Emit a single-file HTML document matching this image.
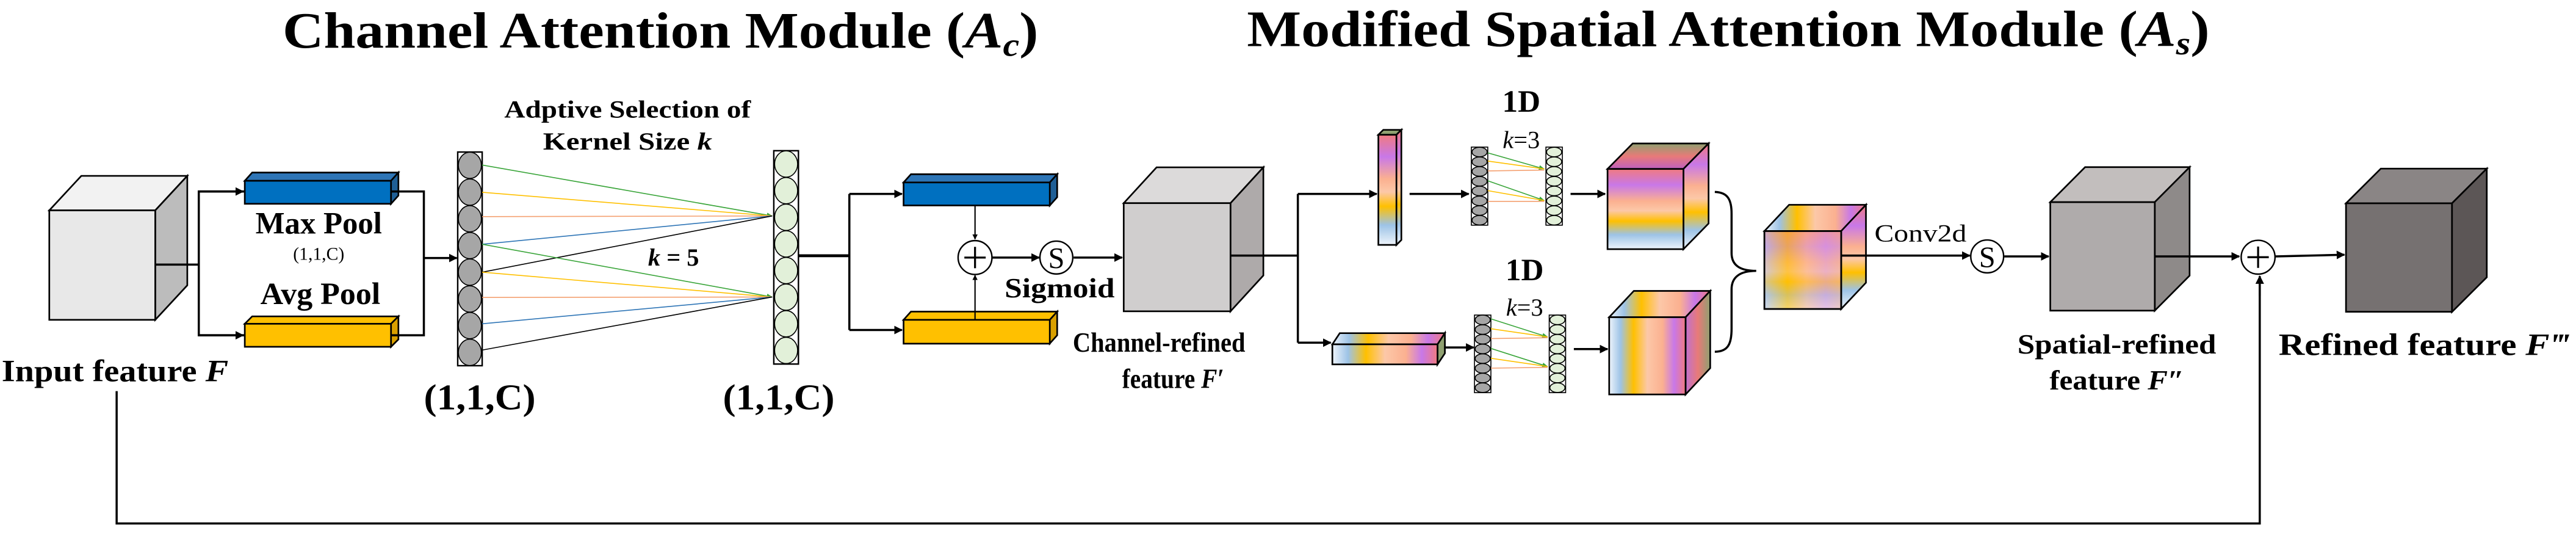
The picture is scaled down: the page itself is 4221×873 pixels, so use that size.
<!DOCTYPE html>
<html><head><meta charset="utf-8"><style>
html,body{margin:0;padding:0;background:#fff;}
svg{display:block;}
text{font-family:"Liberation Serif",serif;fill:#000;}
</style></head><body>
<svg width="4221" height="873" viewBox="0 0 1568 324.3" xmlns="http://www.w3.org/2000/svg">
<defs>
<marker id="ar" viewBox="0 0 10 10" refX="9" refY="5" markerWidth="4" markerHeight="4" orient="auto"><path d="M0,0L10,5L0,10z" fill="#000"/></marker>
<marker id="ag" viewBox="0 0 10 10" refX="9" refY="5" markerWidth="6" markerHeight="6" orient="auto"><path d="M0,1L10,5L0,9z" fill="#3aa53a"/></marker>
<linearGradient id="gv" x1="0" y1="0" x2="0" y2="1">
<stop offset="0" stop-color="#f07a80"/><stop offset="0.2" stop-color="#c878e8"/><stop offset="0.4" stop-color="#fbb090"/><stop offset="0.52" stop-color="#fcc8a8"/><stop offset="0.65" stop-color="#ffc000"/><stop offset="0.82" stop-color="#9dc3e6"/><stop offset="1" stop-color="#eef4fb"/></linearGradient>
<linearGradient id="gh" x1="0" y1="0" x2="1" y2="0">
<stop offset="0" stop-color="#eef4fb"/><stop offset="0.15" stop-color="#9dc3e6"/><stop offset="0.32" stop-color="#ffc000"/><stop offset="0.5" stop-color="#fcc8a8"/><stop offset="0.7" stop-color="#fbb090"/><stop offset="0.85" stop-color="#c878e8"/><stop offset="1" stop-color="#f07a80"/></linearGradient>
<linearGradient id="gside" x1="0" y1="0" x2="1" y2="0">
<stop offset="0" stop-color="#c070d0"/><stop offset="0.5" stop-color="#e87a78"/><stop offset="1" stop-color="#8fa070"/></linearGradient>
<linearGradient id="gtop" x1="0" y1="1" x2="0" y2="0">
<stop offset="0" stop-color="#c060c0"/><stop offset="0.5" stop-color="#e87a78"/><stop offset="1" stop-color="#8fa070"/></linearGradient>
<linearGradient id="gm" x1="0" y1="0" x2="1" y2="0">
<stop offset="0" stop-color="#b8c8ec"/><stop offset="0.3" stop-color="#ffc000"/><stop offset="0.55" stop-color="#fcb890"/><stop offset="0.8" stop-color="#e0a0d8"/><stop offset="1" stop-color="#f0b0a0"/></linearGradient>
</defs>

<text x="172" y="29" font-size="31" font-weight="bold" textLength="460" lengthAdjust="spacingAndGlyphs">Channel Attention Module (<tspan font-style="italic">A</tspan><tspan font-style="italic" font-size="20" dy="5">c</tspan><tspan dy="-5">)</tspan></text>
<text x="759" y="28" font-size="31" font-weight="bold" textLength="586" lengthAdjust="spacingAndGlyphs">Modified Spatial Attention Module (<tspan font-style="italic">A</tspan><tspan font-style="italic" font-size="20" dy="5">s</tspan><tspan dy="-5">)</tspan></text>

<g stroke="#000" stroke-width="1">
<polygon points="30,128 49.5,107 114,107 94.5,128" fill="#f2f2f2"/>
<polygon points="94.5,128 114,107 114,173.6 94.5,194.6" fill="#bcbcbc"/>
<rect x="30" y="128" width="64.5" height="66.6" fill="#e8e8e8"/>
<polygon points="149,110 153.5,105 242.5,105 238,110" fill="#2e75b6"/>
<polygon points="238,110 242.5,105 242.5,119 238,124" fill="#1f5f96"/>
<rect x="149" y="110" width="89" height="14" fill="#0070c0"/>
<polygon points="149,197 153.5,192.5 242.5,192.5 238,197" fill="#ffc000"/>
<polygon points="238,197 242.5,192.5 242.5,206.5 238,211" fill="#d9a000"/>
<rect x="149" y="197" width="89" height="14" fill="#ffc000"/>
<polygon points="550,111 554.5,106 643.5,106 639,111" fill="#2e75b6"/>
<polygon points="639,111 643.5,106 643.5,120 639,125" fill="#1f5f96"/>
<rect x="550" y="111" width="89" height="14" fill="#0070c0"/>
<polygon points="550,194.6 554.5,189.6 643.5,189.6 639,194.6" fill="#ffc000"/>
<polygon points="639,194.6 643.5,189.6 643.5,204 639,209" fill="#d9a000"/>
<rect x="550" y="194.6" width="89" height="14.5" fill="#ffc000"/>
<polygon points="684,123.6 704,101.8 769,101.8 749,123.6" fill="#dcdada"/>
<polygon points="749,123.6 769,101.8 769,167.6 749,189.4" fill="#aeaaaa"/>
<rect x="684" y="123.6" width="65" height="65.8" fill="#d0cece"/>
<polygon points="1248,123 1269.2,101.7 1332.8,101.7 1311.6,123" fill="#c2bebd"/>
<polygon points="1311.6,123 1332.8,101.7 1332.8,167.7 1311.6,189" fill="#8e8a89"/>
<rect x="1248" y="123" width="63.6" height="66" fill="#afabab"/>
<polygon points="1428,123.7 1449.2,102.6 1513.7,102.6 1492.5,123.7" fill="#8a8585"/>
<polygon points="1492.5,123.7 1513.7,102.6 1513.7,168.7 1492.5,189.8" fill="#5c5656"/>
<rect x="1428" y="123.7" width="64.5" height="66" fill="#767171"/>
<polygon points="839,82 842,79 853,79 850,82" fill="#8fa070"/>
<polygon points="850,82 853,79 853,146 850,149" fill="url(#gv)"/>
<rect x="839" y="82" width="11" height="67" fill="url(#gv)"/>
<polygon points="811,209.5 815.5,202.7 879.5,202.7 875,209.5" fill="url(#gh)"/>
<polygon points="875,209.5 879.5,202.7 879.5,215 875,221.7" fill="#8fa070"/>
<rect x="811" y="209.5" width="64" height="12.2" fill="url(#gh)"/>
<polygon points="978.5,102.8 993.8,87.3 1040,87.3 1024.7,102.8" fill="url(#gtop)"/>
<polygon points="1024.7,102.8 1040,87.3 1040,136 1024.7,151.6" fill="url(#gv)"/>
<rect x="978.5" y="102.8" width="46.2" height="48.8" fill="url(#gv)"/>
<polygon points="979.5,193 994.5,177 1041,177 1026,193" fill="url(#gh)"/>
<polygon points="1026,193 1041,177 1041,224 1026,240" fill="url(#gside)"/>
<rect x="979.5" y="193" width="46.5" height="47" fill="url(#gh)"/>
<polygon points="1074,140.6 1089,124.6 1135.8,124.6 1120.7,140.6" fill="url(#gh)"/>
<polygon points="1120.7,140.6 1135.8,124.6 1135.8,172 1120.7,188" fill="url(#gv)"/>
<rect x="1074" y="140.6" width="46.7" height="47.4" fill="url(#gm)"/>
<rect x="1074" y="140.6" width="46.7" height="47.4" fill="url(#gv)" fill-opacity="0.4"/>
</g>

<g stroke="#000" stroke-width="0.6">
<rect x="278.6" y="92.5" width="14.9" height="130" fill="#fff" stroke-width="0.9"/>
<g fill="#a6a6a6">
<ellipse cx="286" cy="100.6" rx="7" ry="8"/><ellipse cx="286" cy="116.9" rx="7" ry="8"/><ellipse cx="286" cy="133.1" rx="7" ry="8"/><ellipse cx="286" cy="149.4" rx="7" ry="8"/><ellipse cx="286" cy="165.6" rx="7" ry="8"/><ellipse cx="286" cy="181.9" rx="7" ry="8"/><ellipse cx="286" cy="198.1" rx="7" ry="8"/><ellipse cx="286" cy="214.4" rx="7" ry="8"/></g>
<rect x="471" y="91.7" width="15" height="129.8" fill="#fff" stroke-width="0.9"/>
<g fill="#e2f0d9">
<ellipse cx="478.5" cy="99.8" rx="7" ry="8"/><ellipse cx="478.5" cy="116" rx="7" ry="8"/><ellipse cx="478.5" cy="132.2" rx="7" ry="8"/><ellipse cx="478.5" cy="148.4" rx="7" ry="8"/><ellipse cx="478.5" cy="164.6" rx="7" ry="8"/><ellipse cx="478.5" cy="180.8" rx="7" ry="8"/><ellipse cx="478.5" cy="197" rx="7" ry="8"/><ellipse cx="478.5" cy="213.2" rx="7" ry="8"/></g>
<rect x="895.6" y="89.5" width="10" height="47.5" fill="#fff"/>
<g fill="#a6a6a6"><ellipse cx="900.6" cy="92.5" rx="4.6" ry="2.9"/><ellipse cx="900.6" cy="98.4" rx="4.6" ry="2.9"/><ellipse cx="900.6" cy="104.3" rx="4.6" ry="2.9"/><ellipse cx="900.6" cy="110.3" rx="4.6" ry="2.9"/><ellipse cx="900.6" cy="116.2" rx="4.6" ry="2.9"/><ellipse cx="900.6" cy="122.2" rx="4.6" ry="2.9"/><ellipse cx="900.6" cy="128.1" rx="4.6" ry="2.9"/><ellipse cx="900.6" cy="134" rx="4.6" ry="2.9"/></g>
<rect x="941" y="89.5" width="10" height="47.5" fill="#fff"/>
<g fill="#e2f0d9"><ellipse cx="946" cy="92.5" rx="4.6" ry="2.9"/><ellipse cx="946" cy="98.4" rx="4.6" ry="2.9"/><ellipse cx="946" cy="104.3" rx="4.6" ry="2.9"/><ellipse cx="946" cy="110.3" rx="4.6" ry="2.9"/><ellipse cx="946" cy="116.2" rx="4.6" ry="2.9"/><ellipse cx="946" cy="122.2" rx="4.6" ry="2.9"/><ellipse cx="946" cy="128.1" rx="4.6" ry="2.9"/><ellipse cx="946" cy="134" rx="4.6" ry="2.9"/></g>
<rect x="897.5" y="191.7" width="10" height="47.2" fill="#fff"/>
<g fill="#a6a6a6"><ellipse cx="902.5" cy="194.6" rx="4.6" ry="2.9"/><ellipse cx="902.5" cy="200.5" rx="4.6" ry="2.9"/><ellipse cx="902.5" cy="206.4" rx="4.6" ry="2.9"/><ellipse cx="902.5" cy="212.3" rx="4.6" ry="2.9"/><ellipse cx="902.5" cy="218.2" rx="4.6" ry="2.9"/><ellipse cx="902.5" cy="224.1" rx="4.6" ry="2.9"/><ellipse cx="902.5" cy="230" rx="4.6" ry="2.9"/><ellipse cx="902.5" cy="235.9" rx="4.6" ry="2.9"/></g>
<rect x="943" y="191.7" width="10" height="47.2" fill="#fff"/>
<g fill="#e2f0d9"><ellipse cx="948" cy="194.6" rx="4.6" ry="2.9"/><ellipse cx="948" cy="200.5" rx="4.6" ry="2.9"/><ellipse cx="948" cy="206.4" rx="4.6" ry="2.9"/><ellipse cx="948" cy="212.3" rx="4.6" ry="2.9"/><ellipse cx="948" cy="218.2" rx="4.6" ry="2.9"/><ellipse cx="948" cy="224.1" rx="4.6" ry="2.9"/><ellipse cx="948" cy="230" rx="4.6" ry="2.9"/><ellipse cx="948" cy="235.9" rx="4.6" ry="2.9"/></g>
</g>

<g stroke-width="0.6" fill="none">
<line x1="293.5" y1="100.4" x2="470" y2="131.4" stroke="#3aa53a" marker-end="url(#ag)"/>
<line x1="293.5" y1="117" x2="470" y2="131.4" stroke="#ffc000"/>
<line x1="293.5" y1="131.8" x2="470" y2="131.4" stroke="#f4a070"/>
<line x1="293.5" y1="148.6" x2="470" y2="131.4" stroke="#2e75b6"/>
<line x1="293.5" y1="165.6" x2="470" y2="131.4" stroke="#000"/>
<line x1="293.5" y1="148.6" x2="470" y2="180.7" stroke="#3aa53a" marker-end="url(#ag)"/>
<line x1="293.5" y1="165.6" x2="470" y2="180.7" stroke="#ffc000"/>
<line x1="293.5" y1="181" x2="470" y2="180.7" stroke="#f4a070"/>
<line x1="293.5" y1="197" x2="470" y2="180.7" stroke="#2e75b6"/>
<line x1="293.5" y1="213" x2="470" y2="180.7" stroke="#000"/>
<line x1="905.6" y1="93" x2="940" y2="102.8" stroke="#3aa53a" marker-end="url(#ag)"/>
<line x1="905.6" y1="98" x2="940" y2="102.8" stroke="#ffc000"/>
<line x1="905.6" y1="104" x2="940" y2="103.5" stroke="#f4a070"/>
<line x1="905.6" y1="110" x2="940" y2="122" stroke="#3aa53a" marker-end="url(#ag)"/>
<line x1="905.6" y1="116" x2="940" y2="122" stroke="#ffc000"/>
<line x1="905.6" y1="122.5" x2="940" y2="122.5" stroke="#f4a070"/>
<line x1="907.5" y1="194" x2="942" y2="205" stroke="#3aa53a" marker-end="url(#ag)"/>
<line x1="907.5" y1="200" x2="942" y2="205" stroke="#ffc000"/>
<line x1="907.5" y1="206" x2="942" y2="205.5" stroke="#f4a070"/>
<line x1="907.5" y1="212" x2="942" y2="223" stroke="#3aa53a" marker-end="url(#ag)"/>
<line x1="907.5" y1="218" x2="942" y2="223" stroke="#ffc000"/>
<line x1="907.5" y1="224" x2="942" y2="223.5" stroke="#f4a070"/>
</g>

<g stroke="#000" stroke-width="1.3" fill="none">
<line x1="94.5" y1="161" x2="121" y2="161"/>
<polyline points="149,116.5 121,116.5 121,204 149,204"/>
<line x1="121" y1="116.5" x2="148" y2="116.5" marker-end="url(#ar)"/>
<line x1="121" y1="204" x2="148" y2="204" marker-end="url(#ar)"/>
<polyline points="238,116.5 258,116.5 258,204 238,204"/>
<line x1="258" y1="157" x2="278" y2="157" marker-end="url(#ar)"/>
<line x1="486" y1="155.6" x2="517" y2="155.6" stroke-width="1.8"/>
<line x1="517" y1="118" x2="517" y2="200.8"/>
<line x1="517" y1="118" x2="549" y2="118" marker-end="url(#ar)"/>
<line x1="517" y1="200.8" x2="549" y2="200.8" marker-end="url(#ar)"/>
<line x1="593.5" y1="125" x2="593.5" y2="145.5" stroke-width="0.8" marker-end="url(#ar)"/>
<line x1="593.5" y1="194.6" x2="593.5" y2="167.5" stroke-width="0.8" marker-end="url(#ar)"/>
<line x1="604" y1="156.7" x2="632.5" y2="156.7" marker-end="url(#ar)"/>
<line x1="653.5" y1="156.7" x2="683" y2="156.7" marker-end="url(#ar)"/>
<line x1="749" y1="155.5" x2="790" y2="155.5"/>
<line x1="790" y1="118" x2="790" y2="208.5"/>
<line x1="790" y1="118" x2="838" y2="118" marker-end="url(#ar)"/>
<line x1="790" y1="208.5" x2="810" y2="208.5" marker-end="url(#ar)"/>
<line x1="858" y1="118" x2="894" y2="118" marker-end="url(#ar)"/>
<line x1="956" y1="118" x2="977" y2="118" marker-end="url(#ar)"/>
<line x1="879" y1="211.4" x2="897" y2="211.4" marker-end="url(#ar)"/>
<line x1="958" y1="212.4" x2="978.5" y2="212.4" marker-end="url(#ar)"/>
<path d="M1043.8,116.8 C1052,117 1054,122 1054,130 L1054,154 C1054,162 1060,164.8 1069,164.8 C1060,164.8 1054,168 1054,176 L1054,200 C1054,209 1052,214 1043.8,214"/>
<line x1="1120.7" y1="155.5" x2="1199" y2="155.5" marker-end="url(#ar)"/>
<line x1="1220" y1="156" x2="1247" y2="156" marker-end="url(#ar)"/>
<line x1="1311.6" y1="156" x2="1363" y2="156" marker-end="url(#ar)"/>
<line x1="1385" y1="156" x2="1427" y2="155" marker-end="url(#ar)"/>
<polyline points="71,238 71,318.5 1375.5,318.5 1375.5,168.5"/>
<line x1="1375.5" y1="180" x2="1375.5" y2="168" marker-end="url(#ar)"/>
</g>

<g stroke="#000" stroke-width="0.9" fill="#fff">
<circle cx="593.5" cy="156.7" r="10.3"/>
<circle cx="643" cy="156.7" r="10"/>
<circle cx="1209.6" cy="156" r="10"/>
<circle cx="1374.5" cy="156.5" r="10.3"/>
</g>
<g stroke="#000" stroke-width="1.2">
<line x1="587" y1="156.7" x2="600" y2="156.7"/><line x1="593.5" y1="150.2" x2="593.5" y2="163.2"/>
<line x1="1368" y1="156.5" x2="1381" y2="156.5"/><line x1="1374.5" y1="150" x2="1374.5" y2="163"/>
</g>
<text x="643" y="163" font-size="18" text-anchor="middle">S</text>
<text x="1209.6" y="162.5" font-size="18" text-anchor="middle">S</text>

<g font-weight="bold">
<text x="194" y="142" font-size="19" text-anchor="middle" textLength="77" lengthAdjust="spacingAndGlyphs">Max Pool</text>
<text x="194" y="158" font-size="11" text-anchor="middle" font-weight="normal">(1,1,C)</text>
<text x="195" y="185" font-size="19" text-anchor="middle" textLength="73" lengthAdjust="spacingAndGlyphs">Avg Pool</text>
<text x="382" y="71.5" font-size="15" text-anchor="middle" textLength="150" lengthAdjust="spacingAndGlyphs">Adptive Selection of</text>
<text x="382" y="91" font-size="15" text-anchor="middle" textLength="103" lengthAdjust="spacingAndGlyphs">Kernel Size  <tspan font-style="italic">k</tspan></text>
<text x="410" y="161.5" font-size="15" text-anchor="middle"><tspan font-style="italic">k</tspan> = 5</text>
<text x="292" y="249" font-size="22" text-anchor="middle" textLength="68" lengthAdjust="spacingAndGlyphs">(1,1,C)</text>
<text x="474" y="249" font-size="22" text-anchor="middle" textLength="68" lengthAdjust="spacingAndGlyphs">(1,1,C)</text>
<text x="1" y="232" font-size="19" textLength="138" lengthAdjust="spacingAndGlyphs">Input feature <tspan font-style="italic">F</tspan></text>
<text x="645" y="181" font-size="17" text-anchor="middle" textLength="67" lengthAdjust="spacingAndGlyphs">Sigmoid</text>
<text x="653" y="214" font-size="17" textLength="105" lengthAdjust="spacingAndGlyphs">Channel-refined</text>
<text x="714" y="236" font-size="17" text-anchor="middle" textLength="62" lengthAdjust="spacingAndGlyphs">feature <tspan font-style="italic">F′</tspan></text>
<text x="926" y="68" font-size="19" text-anchor="middle">1D</text>
<text x="928" y="170.6" font-size="19" text-anchor="middle">1D</text>
<text x="1288.5" y="215" font-size="17" text-anchor="middle" textLength="121" lengthAdjust="spacingAndGlyphs">Spatial-refined</text>
<text x="1288.5" y="237" font-size="17" text-anchor="middle" textLength="82" lengthAdjust="spacingAndGlyphs">feature <tspan font-style="italic">F″</tspan></text>
<text x="1387" y="216" font-size="19" textLength="177" lengthAdjust="spacingAndGlyphs">Refined feature <tspan font-style="italic">F‴</tspan></text>
</g>
<text x="926" y="90" font-size="15" text-anchor="middle"><tspan font-style="italic">k</tspan>=3</text>
<text x="928" y="192" font-size="15" text-anchor="middle"><tspan font-style="italic">k</tspan>=3</text>
<text x="1141" y="147" font-size="15" textLength="56" lengthAdjust="spacingAndGlyphs">Conv2d</text>
</svg>
</body></html>
